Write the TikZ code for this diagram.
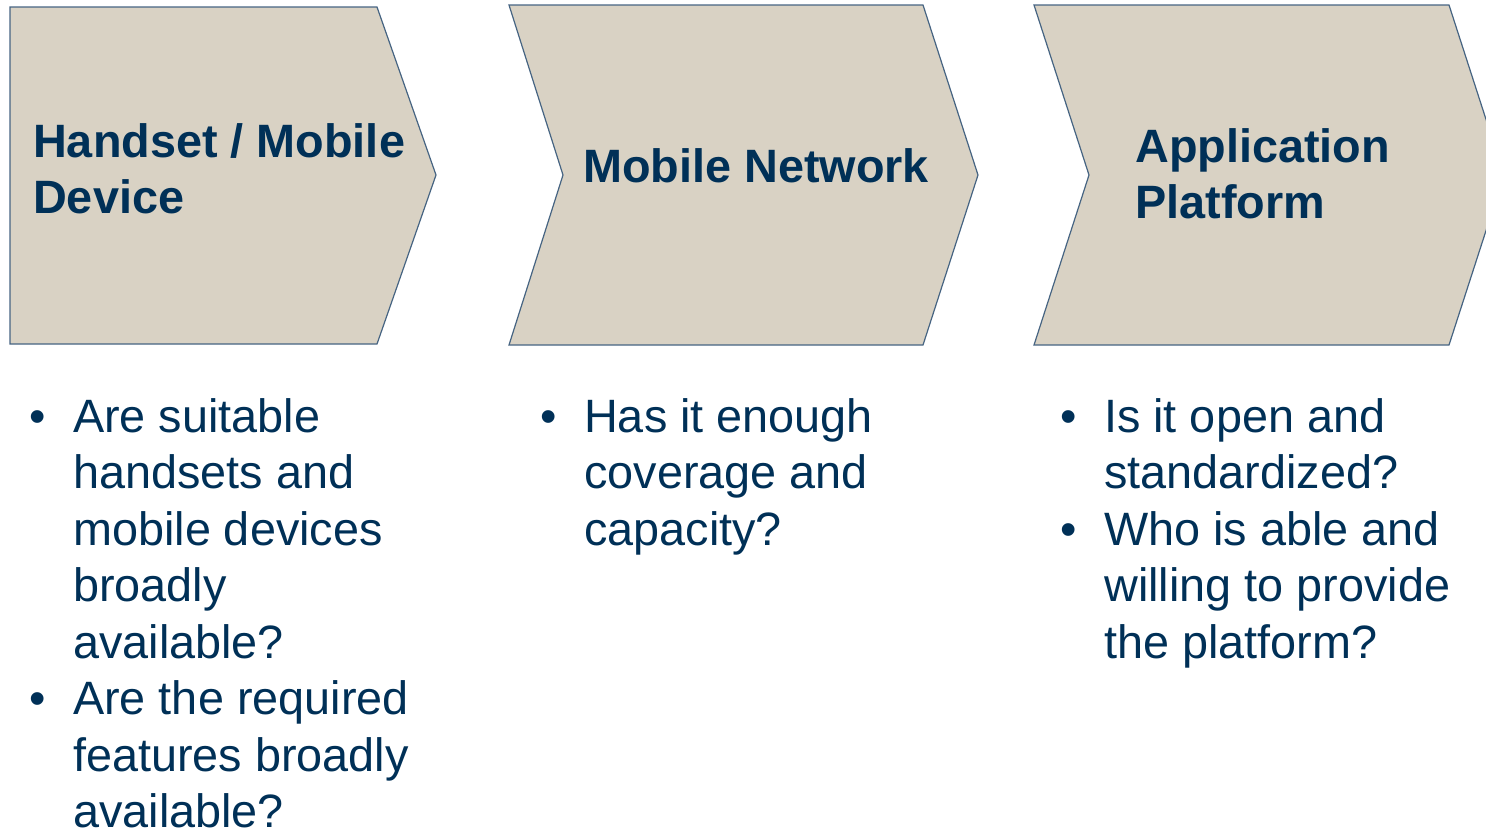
\documentclass[tikz,border=0pt]{standalone}
\usepackage{fontspec}
\setmainfont{Liberation Sans}
\definecolor{chevfill}{RGB}{217,210,196}
\definecolor{chevline}{RGB}{70,100,130}
\definecolor{navy}{RGB}{0,48,87}
\newcommand{\bul}{\makebox[45pt][l]{\hspace{1pt}•}}
\newcommand{\ind}{\hspace*{45pt}}
\begin{document}
\begin{tikzpicture}[x=1pt,y=-1pt,
  chev/.style={fill=chevfill,draw=chevline,line width=1.2pt,line join=miter},
  title/.style={anchor=base west,inner sep=0pt,align=left,text=navy,font=\bfseries\fontsize{46.8}{56.5}\selectfont},
  body/.style={anchor=base west,inner sep=0pt,align=left,text=navy,font=\fontsize{46.8}{56.5}\selectfont}]
\useasboundingbox (0,0) rectangle (1486,831);
\begin{scope}
\clip (0,0) rectangle (1486,831);
\draw[chev] (10,7) -- (377,7) -- (436,175) -- (377,344) -- (10,344) -- cycle;
\draw[chev] (509,5) -- (923,5) -- (978,175) -- (923,345) -- (509,345) -- (563,175) -- cycle;
\draw[chev] (1034,5) -- (1449,5) -- (1504,175) -- (1449,345) -- (1034,345) -- (1089,175) -- cycle;
\end{scope}
% base anchor = baseline of the last line
\node[title] (t1) at (33,213.5) {Handset / Mobile\\Device};
\node[title] (t2) at (583,182) {Mobile Network};
\node[title] (t3) at (1135,218.5) {Application\\Platform};
\node[body] (b1) at (28,827.5) {\bul Are suitable\\\ind handsets and\\\ind mobile devices\\\ind broadly\\\ind available?\\\bul Are the required\\\ind features broadly\\\ind available?};
\node[body] (b2) at (539,545) {\bul Has it enough\\\ind coverage and\\\ind capacity?};
\node[body] (b3) at (1059,658) {\bul Is it open and\\\ind standardized?\\\bul Who is able and\\\ind willing to provide\\\ind the platform?};
\end{tikzpicture}
\end{document}
